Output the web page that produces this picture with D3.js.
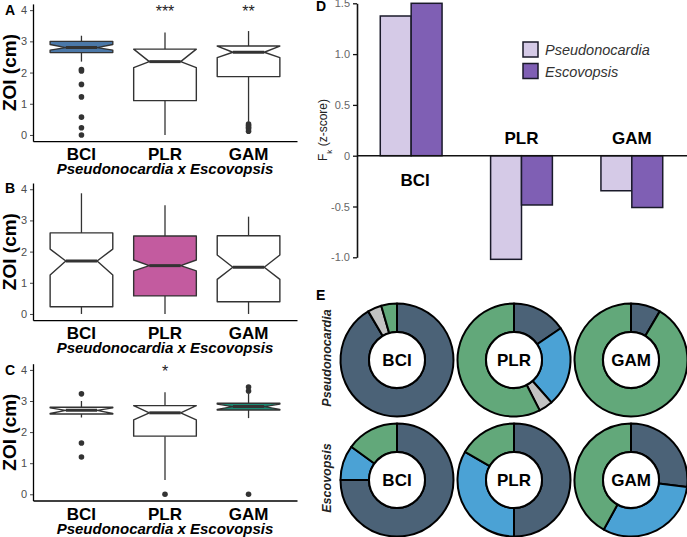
<!DOCTYPE html>
<html><head><meta charset="utf-8">
<script src="https://cdn.jsdelivr.net/npm/d3@7"></script>
<style>body{margin:0;background:#fff} svg{display:block;font-family:"Liberation Sans",Arial,sans-serif}</style>
</head><body><svg id="c" width="687" height="537"></svg>
<script>
// ---------- DATA ----------
const categories = ["BCI", "PLR", "GAM"];
const zoiTicks = [0, 1, 2, 3, 4];
const crossLabel = "Pseudonocardia x Escovopsis";
// box stats: [lowerWhisker, Q1, notchLow, median, notchHigh, Q3, upperWhisker]
const statsA = [[2.35, 2.64, 2.72, 2.8, 2.9, 3.0, 3.18], [0, 1.1, 2.16, 2.35, 2.75, 2.75, 3.28], [0.42, 1.87, 2.48, 2.65, 2.85, 2.85, 3.33]];
const outliersA = [[2.1, 2.05, 1.62, 1.22, 0.57, 0.23, 0], [], [0.35, 0.3, 0.25, 0.2, 0.12]];
const signifA = ["", "***", "**"];
const statsB = [[0, 0.23, 1.25, 1.7, 2.08, 2.6, 3.87], [0, 0.58, 1.38, 1.55, 1.73, 2.5, 3.49], [0, 0.39, 1.11, 1.5, 1.89, 2.51, 3.12]];
const outliersB = [[], [], []];
const signifB = ["", "", ""];
const statsC = [[2.47, 2.58, 2.6, 2.7, 2.78, 2.8, 3.0], [0.46, 1.87, 2.39, 2.62, 2.85, 2.85, 3.28], [2.45, 2.71, 2.73, 2.82, 2.9, 2.93, 3.25]];
const outliersC = [[3.23, 1.65, 1.2], [0], [3.45, 3.32, 0]];
const signifC = ["", "*", ""];

const fkGroups = ["BCI", "PLR", "GAM"];
const fkSeries = ["Pseudonocardia", "Escovopsis"];
const fkPseudonocardia = [1.375, -1.02, -0.345];
const fkEscovopsis = [1.5, -0.485, -0.51];
const fkTicks = [-1, -0.5, 0, 0.5, 1, 1.5];
const fkTickLabels = ["-1.0", "-0.5", "0", "0.5", "1.0", "1.5"];

const donutSites = ["BCI", "PLR", "GAM"];
const donutRows = ["Pseudonocardia", "Escovopsis"];
const cladeKeys = ["clade1", "clade2", "clade3", "clade4"];
const pseudoShares = [[0.915, 0, 0.04, 0.045], [0.155, 0.23, 0.04, 0.575], [0.085, 0, 0, 0.915]];
const escoShares = [[0.75, 0.1, 0, 0.15], [0.5, 0.333, 0, 0.167], [0.27, 0.31, 0, 0.42]];

// ---------- STYLE ----------
const svg = d3.select("#c");
const ink = "#333";

function boxPanel(stats, outs, sig, yTop, yBot, hiIdx, hiFill, letter, letterY) {
  const y = d3.scaleLinear().domain([-0.2, 4.2]).range([yBot, yTop]);
  const x = d3.scaleBand().domain(categories).range([33, 297]).paddingInner(0).paddingOuter(0.08);
  const g = svg.append("g");
  const bw = x.step() * 0.75;
  // y axis
  const ya = g.append("g").attr("transform", "translate(33,0)")
    .call(d3.axisLeft(y).tickValues(zoiTicks).tickFormat(d3.format("d")).tickSize(3).tickSizeOuter(0).tickPadding(3));
  ya.select(".domain").attr("stroke", "#000").attr("stroke-width", 1.3);
  ya.selectAll(".tick line").attr("stroke", "#444").attr("stroke-width", 1);
  ya.selectAll(".tick text").attr("fill", "#4d4d4d").style("font-size", "11px").style("font-family", "Liberation Sans, Arial");
  // x axis
  const xa = g.append("g").attr("transform", `translate(0,${yBot})`)
    .call(d3.axisBottom(x).tickSize(0).tickSizeOuter(0).tickPadding(7));
  xa.select(".domain").attr("stroke", "#000").attr("stroke-width", 1.3);
  xa.selectAll(".tick text").attr("fill", "#000").style("font-size", "17px").style("font-weight", "bold").style("font-family", "Liberation Sans, Arial");
  g.append("text").attr("x", 165).attr("y", yBot + 33).attr("text-anchor", "middle")
    .style("font-size", "15px").style("font-weight", "bold").style("font-style", "italic").text(crossLabel);
  g.append("text").attr("transform", `translate(15.5,${(yTop + yBot) / 2}) rotate(-90)`).attr("text-anchor", "middle")
    .style("font-size", "19px").style("font-weight", "bold").text("ZOI (cm)");
  g.append("text").attr("x", 5).attr("y", letterY).style("font-size", "14px").style("font-weight", "bold").text(letter);

  categories.forEach((c, i) => {
    const s = stats[i];
    const cx = x(c) + x.bandwidth() / 2;
    const x0 = cx - bw / 2, x1 = cx + bw / 2, nw = bw * 0.25;
    // whiskers
    g.append("line").attr("x1", cx).attr("x2", cx).attr("y1", y(s[5])).attr("y2", y(s[6])).attr("stroke", ink).attr("stroke-width", 1.3);
    g.append("line").attr("x1", cx).attr("x2", cx).attr("y1", y(s[1])).attr("y2", y(s[0])).attr("stroke", ink).attr("stroke-width", 1.3);
    const pts = [[x0, s[5]], [x0, s[4]], [x0 + nw, s[3]], [x0, s[2]], [x0, s[1]], [x1, s[1]], [x1, s[2]], [x1 - nw, s[3]], [x1, s[4]], [x1, s[5]]];
    g.append("path").attr("d", d3.line().x(p => p[0]).y(p => y(p[1]))(pts) + "Z")
      .attr("fill", i === hiIdx ? hiFill : "#fff").attr("stroke", ink).attr("stroke-width", 1.4).attr("stroke-linejoin", "round");
    g.append("line").attr("x1", x0 + nw).attr("x2", x1 - nw).attr("y1", y(s[3])).attr("y2", y(s[3])).attr("stroke", ink).attr("stroke-width", 3);
    g.selectAll(null).data(outs[i]).enter().append("circle")
      .attr("cx", cx).attr("cy", d => y(d)).attr("r", 2.8).attr("fill", ink);
    if (sig[i]) g.append("text").attr("x", cx).attr("y", y(4) + 7).attr("text-anchor", "middle")
      .style("font-size", "16px").attr("fill", "#222").text(sig[i]);
  });
}

boxPanel(statsA, outliersA, signifA, 3.9, 141.2, 0, "#4b78a8", "A", 15);
boxPanel(statsB, outliersB, signifB, 183, 320.2, 1, "#c35b9f", "B", 193);
boxPanel(statsC, outliersC, signifC, 363.7, 500.5, 2, "#1b8c75", "C", 375);

// ---------- PANEL D ----------
(function () {
  const g = svg.append("g");
  const y = d3.scaleLinear().domain([-1, 1.5]).range([257.3, 3.3]);
  const x = d3.scaleBand().domain(fkGroups).range([356, 687]).paddingInner(0.44).paddingOuter(0.22);
  const x1 = d3.scaleBand().domain(fkSeries).range([0, x.bandwidth()]);
  const colors = { "Pseudonocardia": "#d5cae7", "Escovopsis": "#7f5fb4" };
  const vals = { "Pseudonocardia": fkPseudonocardia, "Escovopsis": fkEscovopsis };
  fkGroups.forEach((grp, i) => {
    fkSeries.forEach(s => {
      const v = vals[s][i];
      g.append("rect").attr("x", x(grp) + x1(s)).attr("width", x1.bandwidth())
        .attr("y", y(Math.max(0, v))).attr("height", Math.abs(y(v) - y(0)))
        .attr("fill", colors[s]).attr("stroke", "#1a1a2a").attr("stroke-width", 1.5);
    });
    const v = Math.max(fkPseudonocardia[i], fkEscovopsis[i]);
    const above = v <= 0;
    g.append("text").attr("x", x(grp) + x.bandwidth() / 2 + (above ? 0 : 4)).attr("y", above ? y(0) - 12 : y(0) + 30)
      .attr("text-anchor", "middle").style("font-size", "17px").style("font-weight", "bold").text(grp);
  });
  const ya = g.append("g").attr("transform", "translate(357,0)")
    .call(d3.axisLeft(y).tickValues(fkTicks).tickFormat((d, i) => fkTickLabels[i]).tickSize(4).tickSizeOuter(0).tickPadding(3));
  ya.select(".domain").attr("stroke", "#111").attr("stroke-width", 1.6);
  ya.selectAll(".tick line").attr("stroke", "#111").attr("stroke-width", 1.3);
  ya.selectAll(".tick text").attr("fill", "#666").style("font-size", "11px");
  const xa = g.append("g").attr("transform", `translate(0,${y(0)})`)
    .call(d3.axisBottom(x).tickSize(0).tickSizeOuter(0).tickFormat(""));
  xa.select(".domain").attr("stroke", "#111").attr("stroke-width", 1.6).attr("d", `M357,0H687`);
  const t = g.append("text").attr("transform", `translate(327,130) rotate(-90)`).attr("text-anchor", "middle")
    .style("font-size", "12px").attr("fill", "#222");
  t.append("tspan").text("F");
  t.append("tspan").attr("baseline-shift", "sub").style("font-size", "8px").text("k");
  t.append("tspan").text(" (z-score)");
  g.append("text").attr("x", 316).attr("y", 11).style("font-size", "14px").style("font-weight", "bold").text("D");
  // legend
  fkSeries.forEach((s, i) => {
    g.append("rect").attr("x", 523).attr("y", 42 + i * 21.5).attr("width", 15).attr("height", 15)
      .attr("fill", colors[s]).attr("stroke", "#1a1a2a").attr("stroke-width", 1.5);
    g.append("text").attr("x", 545).attr("y", 55 + i * 21.5).style("font-size", "14.5px").style("font-style", "italic")
      .attr("fill", "#333").text(s);
  });
})();

// ---------- PANEL E ----------
(function () {
  const g = svg.append("g");
  const cladeColors = d3.scaleOrdinal().domain(cladeKeys).range(["#4b6277", "#4ba2d5", "#c2c2c2", "#62a87a"]);
  const cx = d3.scalePoint().domain(donutSites).range([397, 631]);
  const cy = d3.scalePoint().domain(donutRows).range([360, 480]);
  const pie = d3.pie().sort(null).value(d => d.v);
  const arc = d3.arc().innerRadius(28).outerRadius(56.5);
  const shares = { "Pseudonocardia": pseudoShares, "Escovopsis": escoShares };
  donutRows.forEach(row => {
    donutSites.forEach((site, i) => {
      const dg = g.append("g").attr("transform", `translate(${cx(site)},${cy(row)})`);
      const data = cladeKeys.map((k, j) => ({ k, v: shares[row][i][j] })).filter(d => d.v > 0);
      dg.selectAll("path").data(pie(data)).enter().append("path").attr("d", arc)
        .attr("fill", d => cladeColors(d.data.k)).attr("stroke", "#000").attr("stroke-width", 2).attr("stroke-linejoin", "round");
      dg.append("circle").attr("r", 28).attr("fill", "#fff").attr("stroke", "#000").attr("stroke-width", 2);
      dg.append("text").attr("y", 6).attr("text-anchor", "middle").style("font-size", "17px").style("font-weight", "bold").text(site);
    });
    g.append("text").attr("transform", `translate(331,${cy(row) - 2}) rotate(-90)`).attr("text-anchor", "middle")
      .style("font-size", "12.5px").style("font-weight", "bold").style("font-style", "italic").attr("fill", "#222").text(row);
  });
  g.append("text").attr("x", 316).attr("y", 300).style("font-size", "14px").style("font-weight", "bold").text("E");
})();
</script></body></html>
